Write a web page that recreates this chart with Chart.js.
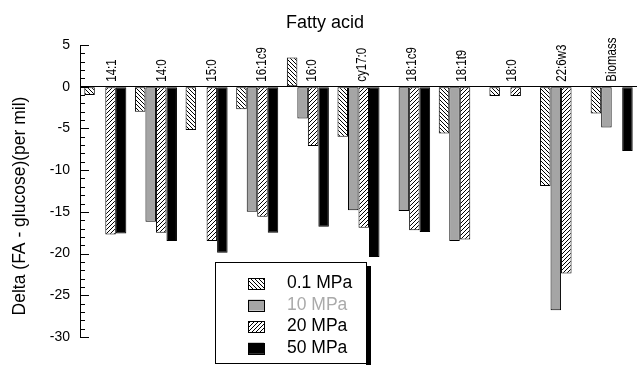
<!DOCTYPE html>
<html>
<head>
<meta charset="utf-8">
<script src="https://cdn.jsdelivr.net/npm/chart.js@4.4.1/dist/chart.umd.min.js"></script>
<style>
  body { margin: 0; background: #fff; }
  #wrap { width: 637px; height: 365px; }
</style>
</head>
<body>
<div id="wrap"><canvas id="chart" width="637" height="365"></canvas></div>
<script>
const categories = ['14:1', '14:0', '15:0', '16:1c9', '16:0', 'cy17:0', '18:1c9', '18:1t9', '18:0', '22:6w3', 'Biomass'];
const seriesLabels = ['0.1 MPa', '10 MPa', '20 MPa', '50 MPa'];
const mpa01 = [-1.0, -3.0, -5.2, -2.7, 3.5, -6.0, null, -5.6, -1.1, -11.9, -3.2];
const mpa10 = [null, -16.2, null, -15.0, -3.8, -14.8, -14.9, -18.5, null, -26.8, -4.9];
const mpa20 = [-17.7, -17.5, -18.5, -15.6, -7.1, -16.9, -17.2, -18.3, -1.1, -22.4, null];
const mpa50 = [-17.6, -18.5, -19.9, -17.5, -16.8, -20.4, -17.4, null, null, null, -7.7];
const yTicks = [5, 0, -5, -10, -15, -20, -25, -30];

const FONT = "'Liberation Sans', Arial, Helvetica, sans-serif";
const canvas = document.getElementById('chart');
const ctx = canvas.getContext('2d');

// small tiles for the hatched fills
function hatch(slash) {
  const n = 4;
  const c = document.createElement('canvas');
  c.width = n;
  c.height = n;
  const g = c.getContext('2d');
  g.fillStyle = '#fff';
  g.fillRect(0, 0, n, n);
  g.fillStyle = '#000';
  for (let i = 0; i < n; i++) {
    g.fillRect(slash ? n - 1 - i : i, i, 1, 1);
  }
  return ctx.createPattern(c, 'repeat');
}

const fills = [hatch(false), '#a5a5a5', hatch(true), '#000'];
const legendText = ['#000', '#aaaaaa', '#000', '#000'];
const values = [mpa01, mpa10, mpa20, mpa50];

const decor = {
  id: 'decor',
  afterDraw(chart) {
    const c = chart.ctx;
    const y = chart.scales.y;
    const x = chart.scales.x;
    const left = chart.chartArea.left;
    c.save();

    // inward ticks, minor every unit
    c.strokeStyle = '#000';
    c.lineWidth = 1;
    c.beginPath();
    for (let v = y.min; v <= y.max; v++) {
      const py = Math.round(y.getPixelForValue(v)) + 0.5;
      const len = v % 5 === 0 ? 9 : 5;
      c.moveTo(left, py);
      c.lineTo(left + len, py);
    }
    c.stroke();

    // y tick labels
    c.fillStyle = '#000';
    c.font = '14px ' + FONT;
    c.textAlign = 'right';
    c.textBaseline = 'middle';
    yTicks.forEach(v => c.fillText(String(v), 70, y.getPixelForValue(v)));

    // category names above the zero line
    c.font = '11.5px ' + FONT;
    c.textAlign = 'left';
    const y0 = y.getPixelForValue(0);
    categories.forEach((name, i) => {
      c.save();
      c.translate(x.getPixelForValue(i) + 7 - 0.6 * i, y0 - 5);
      c.rotate(-Math.PI / 2);
      c.scale(1, 1.2);
      c.fillText(name, 0, 0);
      c.restore();
    });

    // axis titles
    c.font = '18px ' + FONT;
    c.textAlign = 'center';
    c.textBaseline = 'alphabetic';
    c.fillText('Fatty acid', 325, 28);
    c.save();
    c.translate(25, 206);
    c.rotate(-Math.PI / 2);
    c.font = '17.5px ' + FONT;
    c.fillText('Delta (FA - glucose)(per mil)', 0, 0);
    c.restore();

    // legend box with shadow
    c.fillStyle = '#000';
    c.fillRect(366, 266, 5, 100);
    c.fillStyle = '#fff';
    c.fillRect(215, 262, 151, 101);
    c.strokeStyle = '#000';
    c.strokeRect(215.5, 262.5, 151, 101);
    c.font = '17.5px ' + FONT;
    c.textAlign = 'left';
    chart.data.datasets.forEach((ds, i) => {
      const top = 278 + i * 21.6;
      c.fillStyle = ds.backgroundColor;
      c.fillRect(248, top, 16, 11);
      c.strokeRect(248.5, Math.round(top) + 0.5, 16, 11);
      c.fillStyle = legendText[i];
      c.fillText(ds.label, 287, top + 10);
    });
    c.restore();
  }
};

new Chart(ctx, {
  type: 'bar',
  data: {
    labels: categories,
    datasets: seriesLabels.map((label, i) => ({
      label,
      data: values[i],
      backgroundColor: fills[i],
      borderColor: '#000',
      borderWidth: 1,
      borderSkipped: false,
      categoryPercentage: 0.83,
      barPercentage: 1.0
    }))
  },
  options: {
    responsive: false,
    animation: false,
    devicePixelRatio: 1,
    layout: { padding: { top: 45, bottom: 28, left: 0, right: 0 } },
    plugins: {
      legend: { display: false },
      title: { display: false },
      tooltip: { enabled: false }
    },
    scales: {
      x: { display: false },
      y: {
        min: -30,
        max: 5,
        ticks: { stepSize: 5, display: false },
        grid: {
          drawTicks: false,
          color: c => (c.tick && c.tick.value === 0 ? '#000' : 'rgba(0,0,0,0)')
        },
        border: { display: true, color: '#000', width: 1 },
        afterFit: s => { s.width = 80; }
      }
    }
  },
  plugins: [decor]
});
</script>
</body>
</html>
